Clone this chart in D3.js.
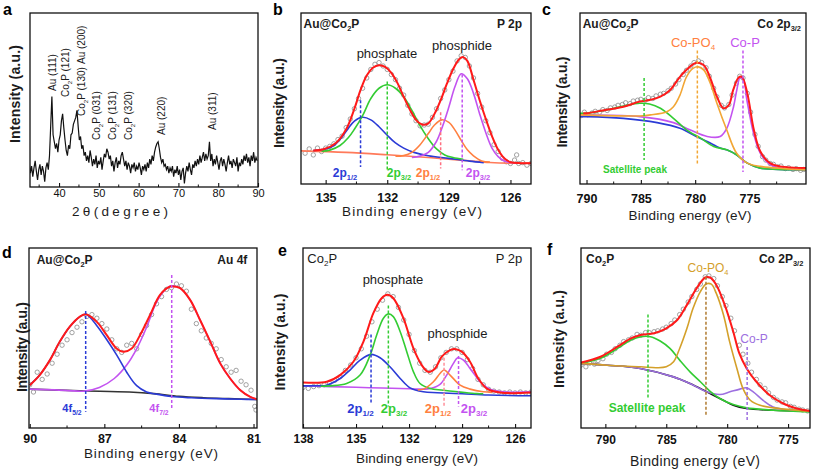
<!DOCTYPE html>
<html><head><meta charset="utf-8">
<script src="https://cdn.jsdelivr.net/npm/d3@7"></script>
<style>body{margin:0;background:#fff}svg{display:block}text{font-family:Arial,"Liberation Sans",sans-serif}</style>
</head><body><svg id="c" width="813" height="471"></svg>
<script>
// ---------------- DATA ----------------
// (a) XRD pattern
const xrdStart = 32.5, xrdStep = 0.3;
const xrdIntensity = [14,8,12,6,11,15,9,4,10,13,7,12,9,3,11,14,10,
 18,35,52,30,26,22,25,20,27,30, 38,42,34,27,21,18,24,22,30,31, 36,38,40,44,35,27,29,22,24,18,
 20,15,18,14,21,17,12,16,13,18, 11,15,13,17,10,15,19,17,22,20, 16,18,12,15,9,14,17,11,15,13,
 18,20,16,12,15,10,14,12,8,13, 11,14,9,12,10,14,11,7,12,10, 13,9,14,11,16,13,18,15,20,23,
 25,26,22,17,14,16,12,13,10,12, 8,11,9,12,6,10,8,12,7,10, 4,9,11,2,8,12,9,14,10,7,
 13,11,15,12,16,13,18,14,17,20, 15,19,16,18,26,15,19,12,16,13, 18,14,10,15,17,12,16,13,9,14,
 18,13,15,11,16,14,12,17,9,14, 12,16,13,18,15,19,14,17,12,18, 15,20,14,17,15];
const xrdTicks = [40,50,60,70,80,90];
const xrdPeaks = [["Au (111)"],["Co","2","P (121)"],["Co","2","P (130)"],["Au (200)"],["Co","2","P (031)"],["Co","2","P (131)"],["Co","2","P (320)"],["Au (220)"],["Au (311)"]];

// (b) Au@Co2P  P 2p
const bTicks = [135,132,129,126];
const bScatter = [[136.0,18],[135.8,20.5],[135.6,17],[135.4,21],[135.2,19],[135.0,21],[134.8,22],[134.6,23.5],[134.4,26],[134.2,28],[134.0,33],[133.8,38],[133.6,44],[133.4,50],[133.2,56],[133.0,62],[132.8,67],[132.6,70],[132.4,71],[132.2,69],[132.0,67],[131.8,64],[131.6,61],[131.4,56],[131.2,52],[131.0,46],[130.8,41],[130.6,37],[130.4,34],[130.2,34.5],[130.0,35],[129.8,39],[129.6,44],[129.4,50],[129.2,55],[129.0,61],[128.8,66],[128.6,72],[128.4,75],[128.2,74],[128.0,69],[127.8,62],[127.6,53],[127.4,45],[127.2,37],[127.0,30],[126.8,23],[126.6,19],[126.4,15],[126.2,13],[126.0,12],[125.8,14],[125.6,12],[125.4,12.5],[125.2,11],[125.0,12],[125.7,17]];
const bBackground = [[136.2,19.4],[134,18.5],[132,17.1],[130,15.5],[128,13.5],[127,12.6],[126,12.2],[125,12.2]];
const bPhosphate12 = [[135.6,19.6],[135,20.5],[134.6,22.5],[134.2,27.5],[133.9,32.5],[133.6,36.8],[133.2,39],[132.8,37.5],[132.4,33.5],[132,28.5],[131.6,24],[131.2,21],[130.7,18.5],[130,16.5],[129,15],[128,13.4],[127.3,12.5]];
const bPhosphate32 = [[135.2,19.2],[134.8,19.8],[134.3,22.5],[133.9,27],[133.6,32],[133.2,40],[132.8,50],[132.4,56],[132,58],[131.6,56],[131.2,51],[130.8,43],[130.4,34],[130,26.5],[129.6,20.5],[129.2,17],[128.8,15.5],[128.3,14.5]];
const bPhosphide12 = [[131.6,16.2],[131.2,16.6],[130.8,18.5],[130.4,23],[130,29.5],[129.7,34.5],[129.35,37.5],[129,36],[128.7,31.5],[128.4,25.5],[128.1,20],[127.8,16.5],[127.4,13.5],[127,12.8]];
const bPhosphide32 = [[130.8,15.5],[130.4,16.3],[130,18.5],[129.6,25],[129.3,34],[129,45],[128.7,57],[128.4,64.5],[128.1,61.5],[127.8,53],[127.5,41],[127.2,30],[126.9,21],[126.6,16],[126.3,13.5],[126,12.6],[125.7,12.3]];
const bEnvelope = [[135.6,19.6],[135.1,20.3],[134.5,24],[134,32],[133.6,44],[133.3,55],[133,63.5],[132.7,68],[132.4,69.5],[132.1,68.5],[131.8,65],[131.5,59],[131.2,51],[130.9,43.5],[130.6,37.5],[130.3,34.8],[130,35.5],[129.7,41],[129.4,49],[129.1,58.5],[128.8,67],[128.5,73],[128.3,74.2],[128.1,72],[127.8,61],[127.5,49],[127.2,38],[126.9,28],[126.6,20],[126.3,15],[126,12.8],[125.5,12.2],[125,12.2]];
const bMarkers = [[133.3,49,10],[132.0,60,8],[129.4,42,9],[128.35,64,8]];

// (c) Au@Co2P  Co 2p3/2
const cTicks = [790,785,780,775];
const cScatter = [[790.8,41],[790.5,40],[790.2,42],[789.9,40.5],[789.5,41.5],[789.2,42.5],[788.8,42],[788.5,43.5],[788.1,43],[787.8,44.5],[787.4,45],[787.1,46],[786.7,46.5],[786.4,47.5],[786.0,47],[785.7,48.5],[785.3,49],[785.0,49.5],[784.6,49],[784.3,50.5],[783.9,50],[783.6,51.5],[783.2,52.5],[782.9,53],[782.5,54.5],[782.2,56],[781.8,58.5],[781.5,61],[781.1,64],[780.8,66.5],[780.4,69],[780.1,71],[779.7,72],[779.4,71],[779.0,68],[778.7,63],[778.3,56],[778.0,51],[777.6,46],[777.3,44.5],[776.9,46.5],[776.6,52],[776.2,59],[775.9,63],[775.6,62],[775.2,53],[774.9,42],[774.5,29],[774.2,22],[773.8,16],[773.5,14],[773.1,12],[772.8,11.5],[772.4,10],[772.1,10.5],[771.7,9],[771.4,9.5],[771.0,8.5],[770.7,9],[770.3,8],[770.0,8.5]];
const cBackground = [[790.6,39.4],[790,39.4],[786.6,38.4],[783.5,35.9],[781.4,32.6],[779.9,27.8],[778.9,24.9],[777.7,21],[777.1,20],[776.2,17.1],[775.2,12.2],[774,9.3],[769.8,8.3]];
const cSatellite = [[790.6,41.4],[790,41.4],[788.2,43.3],[786.6,45.6],[785.1,47.2],[784.2,46.8],[783.2,44.3],[782,38.4],[780.8,31.7],[779.5,26.8],[778.3,21.9],[777.1,20],[776.2,17.1],[775.2,12.2],[774,9.3],[769.8,8.3]];
const cCoPO4 = [[790.6,40.4],[785.1,39.8],[784.1,40.4],[782.6,42.3],[782,45.2],[781.4,52],[780.8,62.7],[780.2,67.6],[779.7,68.5],[779.2,66.6],[778.6,58.8],[778,47.2],[777.1,31.7],[776.2,18.1],[775.2,12.2],[774,10.3],[769.8,8.3]];
const cCoP = [[790.6,40.4],[790,40.4],[785.1,39.4],[782,35.9],[780.5,31.7],[778.9,27.8],[777.7,27.8],[777.09,32.6],[776.47,45.2],[776.17,55],[775.86,62.3],[775.55,60.8],[775.24,49.1],[774.63,29.7],[774.01,18.1],[773.09,11.3],[772.17,9.3],[769.8,8.3]];
const cEnvelope = [[790.3,41.4],[790,41.4],[788.5,43],[786.6,45.2],[785.1,48.2],[784.2,49.1],[783.2,51.1],[782.3,55],[781.4,62.7],[780.5,68.5],[779.9,70.9],[779.2,69.5],[778.6,61.7],[778,51.1],[777.4,44.3],[776.9,46.2],[776.5,55],[776,62.3],[775.7,62.7],[775.2,53],[774.6,31.7],[774,19],[773.1,12.2],[772.2,10.3],[769.8,9.3]];
const cMarkers = [[784.7,62,14],[779.8,78,11],[775.6,78,7]];

// (d) Au@Co2P  Au 4f
const dTicks = [90,87,84,81];
const dScatter = [[90.0,24],[89.85,20],[89.7,31],[89.5,27],[89.3,30],[89.1,36],[88.9,41],[88.7,46],[88.5,49],[88.3,53],[88.1,56],[87.9,59],[87.7,62],[87.5,63],[87.3,61],[87.1,58],[86.9,55],[86.7,49],[86.5,44],[86.3,42],[86.1,46],[85.9,47],[85.7,44],[85.5,52],[85.3,57],[85.1,63],[84.9,69],[84.7,73],[84.5,77],[84.3,78],[84.1,80],[83.9,79],[83.7,76],[83.5,66],[83.3,58],[83.1,54],[82.9,50],[82.7,47],[82.5,44],[82.3,38],[82.1,34],[81.9,31],[81.7,32],[81.5,26],[81.3,24],[81.1,21],[80.95,12],[80.9,10]];
const dBackground = [[90,21.6],[88,20.7],[86,20],[85,19.1],[84,17.6],[83,16.8],[82,16.3],[80.86,15.8]];
const d4f52 = [[90,23.8],[89.6,29.4],[89.19,37.7],[88.79,48],[88.39,56.3],[87.98,61.9],[87.74,63.2],[87.31,57],[86.9,49],[86.5,40.5],[86.1,31],[85.7,23.5],[85.3,20],[84.9,18.8],[84.3,17.5],[83.5,16.8],[82.5,16.3],[81.5,16],[80.86,15.8]];
const d4f72 = [[90,21.6],[89,21.2],[88.2,20.6],[87.8,20.5],[87.2,22.5],[86.6,27.5],[86.1,35],[85.7,44],[85.3,56],[84.9,70],[84.5,77.5],[84.29,79],[83.95,77.7],[83.55,71.2],[83.15,60],[82.74,48],[82.34,35.9],[81.94,27.5],[81.53,21],[81.13,17.3],[80.86,16]];
const dEnvelope = [[90,23.8],[89.6,29.4],[89.19,37.7],[88.79,48],[88.39,56.3],[87.98,61.9],[87.74,63.2],[87.31,59.1],[86.91,51.7],[86.51,44.2],[86.24,42.4],[85.9,44.2],[85.56,51.7],[85.16,62.8],[84.76,74],[84.35,78.6],[84.1,78.4],[83.95,77.7],[83.55,71.2],[83.15,60],[82.74,48],[82.34,35.9],[81.94,27.5],[81.53,21],[81.13,17.3],[80.86,16]];
const dMarkers = [[87.75,65,9],[84.29,85,10]];

// (e) Co2P  P 2p
const eTicks = [138,135,132,129,126];
const eScatter = [[138.0,22.5],[137.7,22],[137.4,23],[137.1,23.5],[136.8,24],[136.5,25],[136.2,26.5],[135.9,28.5],[135.6,32],[135.3,35],[135.0,39],[134.7,44],[134.4,51],[134.1,59],[133.8,66],[133.5,71],[133.2,74.5],[132.9,73],[132.6,67],[132.3,60],[132.0,52],[131.7,43],[131.4,36],[131.1,32],[130.8,31],[130.5,34],[130.2,39],[129.9,42],[129.6,44],[129.3,44],[129.0,42],[128.7,38],[128.4,33],[128.1,27],[127.8,24],[127.5,21.5],[127.2,20.5],[126.9,20],[126.6,19.5],[126.3,20],[126.0,19.5],[125.7,20],[125.4,19.5],[125.1,20]];
const ePhosphate12 = [[138,23.4],[137.2,23.5],[136.66,23.8],[135.9,27.5],[135.34,32.2],[134.77,37.7],[134.15,40.9],[133.64,39],[133.08,34],[132.5,27.5],[131.94,22.3],[131.19,20.1],[130.4,19.6],[129,19],[127.5,18.3],[125.1,17.9]];
const ePhosphate32 = [[137,23.2],[136.47,23.4],[135.53,24.7],[134.77,29.4],[134.2,40.5],[133.83,51.7],[133.45,61],[133.17,63.4],[132.89,61.9],[132.5,53.5],[132.13,42.4],[131.75,31.2],[131.38,24.7],[130.81,21.9],[130.06,21],[128.17,19.1],[127.8,19]];
const ePhosphide12 = [[131.5,21.2],[131.19,21.6],[130.62,25.7],[130.25,30.3],[130.02,32.2],[129.68,29.4],[129.11,23.8],[128.55,21.6],[127.8,20.1],[127.3,19.8]];
const ePhosphide32 = [[138,23.4],[136.5,23],[135,22.6],[133.5,22.2],[132,21.8],[131.2,21.6],[130.81,21.9],[130.25,24.2],[129.87,29.4],[129.49,35.9],[129.25,39],[128.92,37.7],[128.55,33.1],[128.2,28.5],[127.98,25.7],[127.42,21.6],[126.66,20.1],[125.1,20.1]];
const eEnvelope = [[138,25.3],[136.66,25.7],[135.9,29.4],[135.15,36.8],[134.58,48],[134.02,63.8],[133.55,72.1],[133.23,74],[132.89,72.1],[132.32,61],[131.75,44.2],[131.28,34.9],[130.91,31.2],[130.53,33.1],[130.15,39.6],[129.68,43.3],[129.4,43.9],[129.02,42.4],[128.55,36.8],[128.08,27.5],[127.6,21.9],[126.85,19.7],[125.1,19.7]];
const eMarkers = [[134.15,52,13],[133.17,68,12],[130.02,39,12],[129.2,40,12]];

// (f) Co2P  Co 2P3/2
const fTicks = [790,785,780,775];
const fScatter = [[792.0,35],[791.6,34],[791.3,36],[790.9,35.5],[790.6,37.5],[790.2,38.5],[789.9,41],[789.5,42],[789.2,44],[788.8,46],[788.5,48],[788.1,49],[787.8,50],[787.4,52],[787.1,51.5],[786.7,53],[786.4,53],[786.0,53.5],[785.7,54],[785.3,55],[785.0,56],[784.6,58],[784.3,60],[783.9,63],[783.6,66],[783.2,70],[782.9,73],[782.5,77],[782.2,80],[781.8,84],[781.5,84.5],[781.1,83],[780.8,79],[780.4,73],[780.1,68],[779.7,61],[779.4,54],[779.0,46],[778.7,41],[778.3,36],[778.0,31],[777.6,27],[777.3,24],[776.9,22],[776.6,19.5],[776.2,17],[775.9,15.5],[775.5,14.5],[775.2,14],[774.8,12],[774.5,11.5],[774.1,10.5],[773.8,10],[773.4,9.5]];
const fBackground = [[792,35.9],[789.86,34.9],[787.14,33.1],[784.41,28.4],[783.05,24.7],[781.68,20.1],[780.32,15.4],[779.5,12.6],[778.41,10.8],[776.23,9.9],[773.2,9.3]];
const fCoP = [[792,35.9],[789.86,34.9],[787.14,33.1],[784.41,28.4],[783.05,24.7],[781.68,20.1],[780.6,18.6],[779.77,20.1],[778.95,21.6],[778.41,22.3],[777.86,20.1],[777.05,15.4],[776.23,11.7],[774.86,9.9],[773.2,9.3]];
const fSatellite = [[792,35.9],[790.4,38.7],[789,44.2],[787.9,48.9],[787.1,50.7],[786.3,50.7],[785.5,48.3],[784.7,44.2],[783.9,37.7],[783.05,31.2],[782.2,25.7],[781.4,20.4],[780.6,16.4],[779.5,13],[778.4,11.2],[776.2,9.9],[773.2,8.9]];
const fCoPO4 = [[792,35.9],[789.86,34.9],[787.1,34],[785.8,33.5],[785,34],[784.4,36.8],[783.9,44.2],[783.3,55.4],[782.8,66.5],[782.2,75.8],[781.7,80.1],[781.3,79.9],[780.9,74.9],[780.3,62.8],[779.8,48],[779.2,33.1],[778.7,21.9],[778.1,15.4],[777.3,12.6],[776.2,11.2],[773.2,9.3]];
const fEnvelope = [[792,36.4],[790.4,39.6],[789,45.2],[787.9,49.8],[787.1,51.7],[786,52.6],[785,55.4],[784.1,60],[783.3,68.4],[782.5,77.7],[781.8,83.6],[781.4,83.6],[780.9,79.6],[780.2,68.4],[779.5,53.5],[779,41.4],[778.4,33.1],[777.6,25.7],[776.5,18.2],[775.4,13.6],[774.3,10.8],[773.2,9.5]];
const fMarkers = [[786.5,63,16],[781.74,84,7],[778.36,45,4]];

// ---------------- DRAWING ----------------
const svg = d3.select('#c');
const C = {red:'#ff1a1a', blue:'#2b3bd6', green:'#33cc33', orange:'#ff8040', violet:'#c353f0',
  gold:'#f2a635', goldF:'#d4a02a', purple:'#9d6fe0', scat:'#8a8a8a', bg:'#ff7a5a', text:'#1c1c1c'};

function panel(o){
  const g = svg.append('g');
  const x = d3.scaleLinear().domain(o.domain).range([o.box.l, o.box.r]);
  const y = d3.scaleLinear().domain([0,100]).range([o.box.b, o.box.t]);
  const id = 'clip' + o.letter;
  svg.append('clipPath').attr('id', id).append('rect')
    .attr('x', o.box.l).attr('y', o.box.t).attr('width', o.box.r - o.box.l).attr('height', o.box.b - o.box.t);
  const plot = g.append('g').attr('clip-path', `url(#${id})`);
  const ax = d3.axisBottom(x).tickValues(o.ticks).tickSize(-4).tickFormat(d3.format('d'));
  const axg = g.append('g').attr('transform', `translate(0,${o.box.b})`).call(ax);
  axg.select('.domain').remove();
  axg.selectAll('line').attr('stroke', '#111').attr('stroke-width', 1.1);
  axg.selectAll('text').attr('y', o.tickY).attr('dy', 0).attr('fill', '#111')
    .style('font-size', o.tickSize + 'px').style('font-weight', o.tickWeight || 'bold');
  g.append('g').selectAll('line').data(o.minor).join('line')
    .attr('x1', d => x(d)).attr('x2', d => x(d)).attr('y1', o.box.b).attr('y2', o.box.b - 2.5)
    .attr('stroke', '#111').attr('stroke-width', 1);
  g.append('rect').attr('x', o.box.l).attr('y', o.box.t).attr('width', o.box.r - o.box.l).attr('height', o.box.b - o.box.t)
    .attr('fill', 'none').attr('stroke', '#111').attr('stroke-width', 1.3);
  g.append('text').attr('x', o.xt[0]).attr('y', o.xt[1]).attr('text-anchor', 'middle').attr('fill', C.text)
    .attr('textLength', o.xt[2]).attr('lengthAdjust', 'spacing')
    .style('font-size', o.xt[3] + 'px').text(o.xTitle);
  g.append('text').attr('transform', `translate(${o.yt[0]},${o.yt[1]}) rotate(-90)`).attr('text-anchor', 'middle')
    .attr('dy', '0.35em').attr('fill', C.text).attr('textLength', o.yt[2]).attr('lengthAdjust', 'spacing')
    .style('font-size', '14px').style('font-weight', 'bold').text('Intensity (a.u.)');
  g.append('text').attr('x', o.lt[0]).attr('y', o.lt[1]).attr('fill', '#000')
    .style('font-size', '16px').style('font-weight', 'bold').text(o.letter);
  return {g, plot, x, y};
}

function line(P, data, color, w){
  const gen = d3.line().x(d => P.x(d[0])).y(d => P.y(d[1])).curve(d3.curveCatmullRom.alpha(0.5));
  P.plot.append('path').datum(data).attr('d', gen).attr('fill', 'none').attr('stroke', color)
    .attr('stroke-width', w || 1.6).attr('stroke-linejoin', 'round');
}
function scatter(P, data){
  P.plot.append('g').selectAll('circle').data(data).join('circle')
    .attr('cx', d => P.x(d[0])).attr('cy', d => P.y(d[1])).attr('r', 2.2)
    .attr('fill', 'none').attr('stroke', C.scat).attr('stroke-width', 0.8);
}
function markers(P, data, colors){
  P.plot.append('g').selectAll('line').data(data).join('line')
    .attr('x1', d => P.x(d[0])).attr('x2', d => P.x(d[0])).attr('y1', d => P.y(d[1])).attr('y2', d => P.y(d[2]))
    .attr('stroke', (d, i) => colors[i]).attr('stroke-width', 1.5).attr('stroke-dasharray', '3,2');
}
function label(g, x, y, parts, s){
  const t = g.append('text').attr('x', x).attr('y', y).attr('text-anchor', s.anchor || 'start')
    .attr('fill', s.color || C.text).style('font-size', s.size + 'px').style('font-weight', s.weight || 'normal');
  let shift = 0;
  parts.forEach(p => {
    const sub = Array.isArray(p);
    const ts = t.append('tspan').text(sub ? p[0] : p);
    if (sub){ ts.attr('dy', 3).style('font-size', (s.size * 0.62) + 'px'); shift = 3; }
    else if (shift){ ts.attr('dy', -shift); shift = 0; }
  });
  return t;
}

// ---- (a) ----
(function(){
  const box = {l:30, r:258, t:13, b:187};
  const P = panel({box, domain:[32.7, 90], ticks:xrdTicks, minor:[35,45,55,65,75,85], letter:'a',
    tickY:10, tickSize:11, tickWeight:'normal', xTitle:'2θ(degree)', xt:[120,216,96,13.5], yt:[15.5,94,98], lt:[3,15]});
  const gen = d3.line().x((d, i) => P.x(xrdStart + i * xrdStep)).y(d => P.y(d));
  P.plot.append('path').datum(xrdIntensity).attr('d', gen).attr('fill', 'none').attr('stroke', '#111').attr('stroke-width', 1.2);
  const pos = [[22,78],[35,84],[51,103],[51,51],[66,127],[82,127],[98,127],[131,122],[182,117]];
  xrdPeaks.forEach((p, i) => {
    const parts = p.length === 1 ? [p[0]] : [p[0], [p[1]], p[2]];
    const t = label(P.g, 0, 0, parts, {size:10});
    t.attr('x', null).attr('y', null).attr('dy', '0.35em')
     .attr('transform', `translate(${box.l + pos[i][0]},${box.t + pos[i][1]}) rotate(-90)`);
  });
})();

// ---- (b) ----
(function(){
  const box = {l:301, r:531, t:13, b:184};
  const P = panel({box, domain:[136.2, 125], ticks:bTicks, minor:[133.5,130.5,127.5], letter:'b',
    tickY:17.5, tickSize:12.5, xTitle:'Binding energy (eV)', xt:[412,216,140,13.5], yt:[279,103,90], lt:[273,15]});
  scatter(P, bScatter);
  line(P, bBackground, C.bg, 1.6);
  line(P, bPhosphate12, C.blue);
  line(P, bPhosphate32, C.green);
  line(P, bPhosphide12, C.orange);
  line(P, bPhosphide32, C.violet);
  line(P, bEnvelope, C.red, 2);
  markers(P, bMarkers, [C.blue, C.green, '#ff6f80', C.violet]);
  const g = P.g, L = box.l, T = box.t;
  label(g, L+2.5, T+15, ['Au@Co', ['2'], 'P'], {size:12, weight:'bold'});
  label(g, L+221, T+15, ['P 2p'], {size:12, weight:'bold', anchor:'end'});
  label(g, L+86, T+44.5, ['phosphate'], {size:13, anchor:'middle'});
  label(g, L+161, T+36.5, ['phosphide'], {size:13, anchor:'middle'});
  label(g, L+44, T+163.5, ['2p', ['1/2']], {size:12, weight:'bold', anchor:'middle', color:C.blue});
  label(g, L+98, T+163.5, ['2p', ['3/2']], {size:12, weight:'bold', anchor:'middle', color:C.green});
  label(g, L+127, T+163.5, ['2p', ['1/2']], {size:12, weight:'bold', anchor:'middle', color:C.orange});
  label(g, L+177, T+163.5, ['2p', ['3/2']], {size:12, weight:'bold', anchor:'middle', color:C.violet});
})();

// ---- (c) ----
(function(){
  const box = {l:580, r:806, t:13, b:184};
  const P = panel({box, domain:[790.6, 769.8], ticks:cTicks, minor:[787.5,782.5,777.5,772.5], letter:'c',
    tickY:19, tickSize:12.5, xTitle:'Binding energy (eV)', xt:[690,220,123,13.5], yt:[562.5,102,91], lt:[542,15]});
  scatter(P, cScatter);
  line(P, cBackground, C.blue);
  line(P, cCoP, C.violet);
  line(P, cSatellite, C.green);
  line(P, cCoPO4, C.gold);
  line(P, cEnvelope, C.red, 2);
  markers(P, cMarkers, [C.green, C.gold, C.violet]);
  const g = P.g, L = box.l, T = box.t;
  label(g, L+2.7, T+14.7, ['Au@Co', ['2'], 'P'], {size:12, weight:'bold'});
  label(g, L+221, T+15, ['Co 2p', ['3/2']], {size:12, weight:'bold', anchor:'end'});
  label(g, L+113, T+33.7, ['Co-PO', ['4']], {size:13, anchor:'middle', color:C.orange});
  label(g, L+165, T+33.7, ['Co-P'], {size:13, anchor:'middle', color:C.violet});
  label(g, L+55, T+160, ['Satellite peak'], {size:10, weight:'bold', anchor:'middle', color:C.green});
})();

// ---- (d) ----
(function(){
  const box = {l:29, r:257, t:248, b:428};
  const P = panel({box, domain:[90.03, 80.86], ticks:dTicks, minor:[88.5,85.5,82.5], letter:'d',
    tickY:14.5, tickSize:12.5, xTitle:'Binding energy (eV)', xt:[151,458,134,13.5], yt:[22.5,347,90], lt:[2,258]});
  scatter(P, dScatter);
  line(P, dBackground, '#333', 1.6);
  line(P, d4f72, C.violet);
  line(P, d4f52, C.blue);
  line(P, dEnvelope, C.red, 2);
  markers(P, dMarkers, [C.blue, C.violet]);
  const g = P.g, L = box.l, T = box.t;
  label(g, L+7.7, T+16, ['Au@Co', ['2'], 'P'], {size:12, weight:'bold'});
  label(g, L+218.3, T+16, ['Au  4f'], {size:12, weight:'bold', anchor:'end'});
  label(g, L+43, T+164, ['4f', ['5/2']], {size:11, weight:'bold', anchor:'middle', color:C.blue});
  label(g, L+130, T+164, ['4f', ['7/2']], {size:11, weight:'bold', anchor:'middle', color:C.violet});
})();

// ---- (e) ----
(function(){
  const box = {l:303, r:531, t:248, b:428};
  const P = panel({box, domain:[138, 125.1], ticks:eTicks, minor:[136.5,133.5,130.5,127.5], letter:'e',
    tickY:15, tickSize:12, xTitle:'Binding energy (eV)', xt:[417,463,122,13.5], yt:[280,342,97], lt:[278,256]});
  scatter(P, eScatter);
  line(P, ePhosphide32, C.violet);
  line(P, ePhosphate12, C.blue);
  line(P, ePhosphate32, C.green);
  line(P, ePhosphide12, C.orange);
  line(P, eEnvelope, C.red, 2);
  markers(P, eMarkers, [C.blue, C.green, '#ff8f9a', C.violet]);
  const g = P.g, L = box.l, T = box.t;
  label(g, L+4.3, T+15.3, ['Co', ['2'], 'P'], {size:13});
  label(g, L+219.3, T+15.3, ['P 2p'], {size:13, anchor:'end'});
  label(g, L+90, T+36.3, ['phosphate'], {size:13, anchor:'middle'});
  label(g, L+154.5, T+89.7, ['phosphide'], {size:13, anchor:'middle'});
  label(g, L+57.5, T+165.3, ['2p', ['1/2']], {size:13, weight:'bold', anchor:'middle', color:C.blue});
  label(g, L+91, T+165.3, ['2p', ['3/2']], {size:13, weight:'bold', anchor:'middle', color:C.green});
  label(g, L+135, T+165.3, ['2p', ['1/2']], {size:13, weight:'bold', anchor:'middle', color:C.orange});
  label(g, L+171, T+165.3, ['2p', ['3/2']], {size:13, weight:'bold', anchor:'middle', color:C.violet});
})();

// ---- (f) ----
(function(){
  const box = {l:581, r:810, t:248, b:428};
  const P = panel({box, domain:[792, 773.2], ticks:fTicks, minor:[787.5,782.5,777.5], letter:'f',
    tickY:16, tickSize:12, xTitle:'Binding energy (eV)', xt:[695,466,130,14], yt:[559,339,98], lt:[547,255]});
  scatter(P, fScatter);
  line(P, fBackground, '#111', 1.6);
  line(P, fCoP, C.purple);
  line(P, fSatellite, C.green);
  line(P, fCoPO4, C.goldF);
  line(P, fEnvelope, C.red, 2);
  markers(P, fMarkers, [C.green, '#b07a30', C.purple]);
  const g = P.g, L = box.l, T = box.t;
  label(g, L+5, T+15.3, ['Co', ['2'], 'P'], {size:12, weight:'bold'});
  label(g, L+222.3, T+15.3, ['Co 2P', ['3/2']], {size:12, weight:'bold', anchor:'end'});
  label(g, L+127, T+23.7, ['Co-PO', ['4']], {size:12, anchor:'middle', color:C.goldF});
  label(g, L+173, T+95.3, ['Co-P'], {size:12, anchor:'middle', color:C.purple});
  label(g, L+66, T+164.3, ['Satellite peak'], {size:12, weight:'bold', anchor:'middle', color:C.green});
})();
</script></body></html>
